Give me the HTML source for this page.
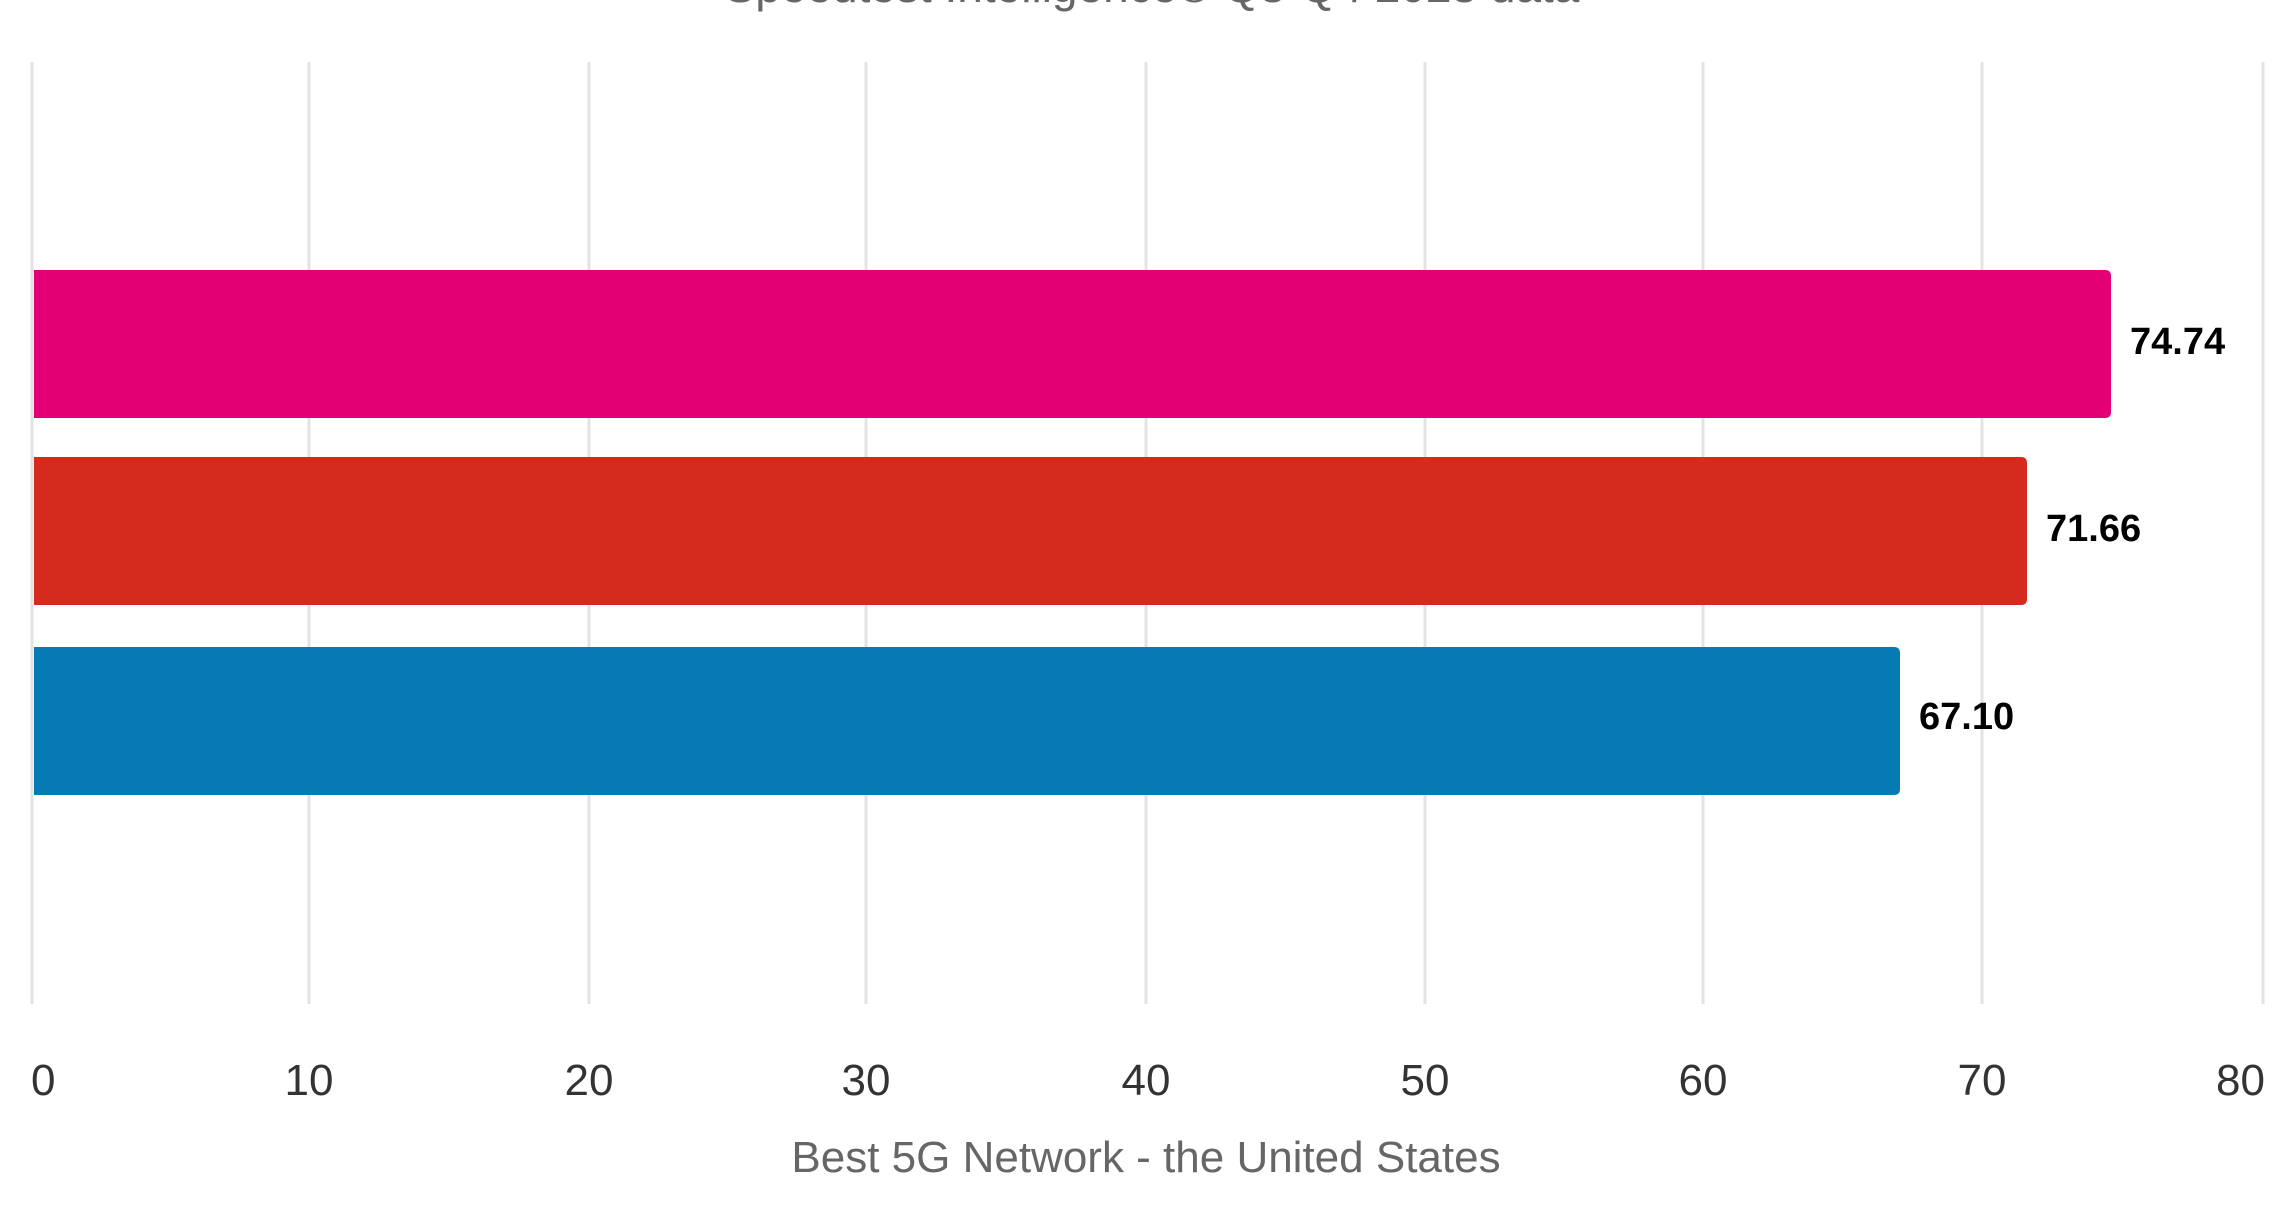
<!DOCTYPE html>
<html><head><meta charset="utf-8"><style>
html,body{margin:0;padding:0;background:#fff;}
body{width:2292px;height:1200px;overflow:hidden;}
</style></head><body>
<svg width="2292" height="1200" xmlns="http://www.w3.org/2000/svg" font-family="'Liberation Sans', sans-serif">
<text x="1152" y="2" text-anchor="middle" font-size="46" fill="#666">Speedtest Intelligence® Q3-Q4 2023 data</text>
<g stroke="#e3e3e3" stroke-width="3">
<line x1="32" y1="62" x2="32" y2="1004"/>
<line x1="309" y1="62" x2="309" y2="1004"/>
<line x1="589" y1="62" x2="589" y2="1004"/>
<line x1="866" y1="62" x2="866" y2="1004"/>
<line x1="1146" y1="62" x2="1146" y2="1004"/>
<line x1="1425" y1="62" x2="1425" y2="1004"/>
<line x1="1703" y1="62" x2="1703" y2="1004"/>
<line x1="1982" y1="62" x2="1982" y2="1004"/>
<line x1="2263" y1="62" x2="2263" y2="1004"/>
</g>
<path d="M34 270 H2105 Q2111 270 2111 276 V412 Q2111 418 2105 418 H34 Z" fill="#e20074"/>
<path d="M34 457 H2021 Q2027 457 2027 463 V599 Q2027 605 2021 605 H34 Z" fill="#d52b1e"/>
<path d="M34 647 H1894 Q1900 647 1900 653 V789 Q1900 795 1894 795 H34 Z" fill="#067ab4"/>
<g font-size="38" font-weight="bold" fill="#000">
<text x="2130" y="354">74.74</text>
<text x="2046" y="541">71.66</text>
<text x="1919" y="729">67.10</text>
</g>
<g font-size="44" fill="#333" text-anchor="middle">
<text x="31" y="1095" text-anchor="start">0</text>
<text x="309" y="1095">10</text>
<text x="589" y="1095">20</text>
<text x="866" y="1095">30</text>
<text x="1146" y="1095">40</text>
<text x="1425" y="1095">50</text>
<text x="1703" y="1095">60</text>
<text x="1982" y="1095">70</text>
<text x="2265" y="1095" text-anchor="end">80</text>
</g>
<text x="1146" y="1172" text-anchor="middle" font-size="44" fill="#666">Best 5G Network - the United States</text>
</svg>
</body></html>
